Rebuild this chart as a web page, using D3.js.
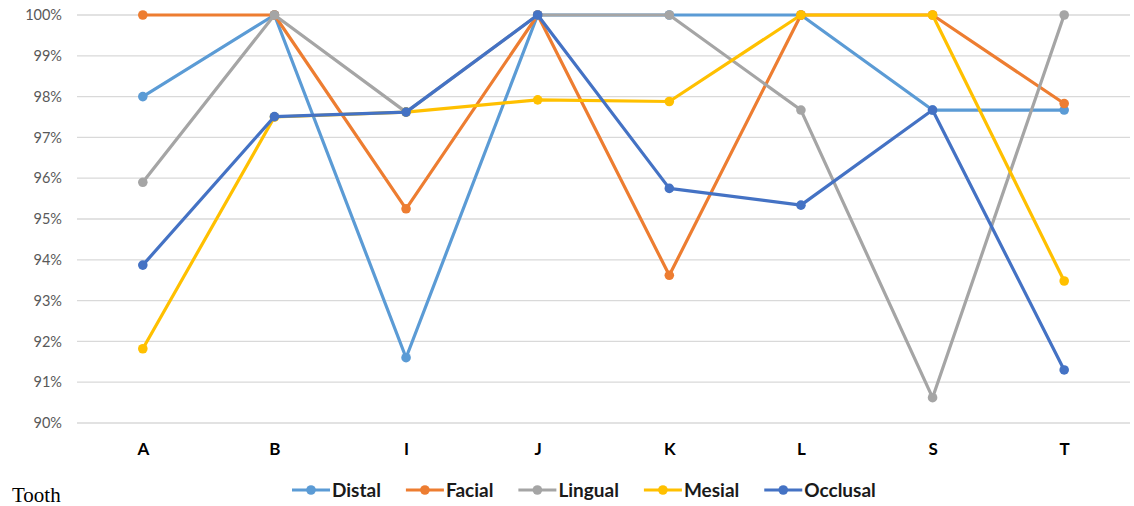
<!DOCTYPE html>
<html>
<head>
<meta charset="utf-8">
<script src="https://cdn.jsdelivr.net/npm/d3@7"></script>
<style>
  html, body { margin: 0; padding: 0; background: #fff; }
  svg { display: block; }
</style>
</head>
<body>
<svg id="chart" width="1134" height="506"></svg>
<script>
// Teeth along the x axis
const categories = ["A", "B", "I", "J", "K", "L", "S", "T"];

// Share per surface (%), one array per series
const distal   = [98.00, 100, 91.60, 100, 100, 100, 97.67, 97.67];
const facial   = [100, 100, 95.25, 100, 93.62, 100, 100, 97.83];
const lingual  = [95.90, 100, 97.62, 100, 100, 97.67, 90.62, 100];
const mesial   = [91.82, 97.50, 97.62, 97.92, 97.88, 100, 100, 93.48];
const occlusal = [93.87, 97.51, 97.62, 100, 95.75, 95.34, 97.67, 91.30];

const seriesNames  = ["Distal", "Facial", "Lingual", "Mesial", "Occlusal"];
const seriesValues = [distal, facial, lingual, mesial, occlusal];
const seriesColors = ["#5B9BD5", "#ED7D31", "#A5A5A5", "#FFC000", "#4472C4"];

const yTicks = [90, 91, 92, 93, 94, 95, 96, 97, 98, 99, 100];

const svg = d3.select("#chart");
const plotLeft = 77, plotRight = 1130, plotTop = 15, plotBottom = 423;

const x = d3.scalePoint().domain(categories).range([plotLeft, plotRight]).padding(0.5);
const y = d3.scaleLinear().domain([90, 100]).range([plotBottom, plotTop]);

const font = "Lato, 'Open Sans', sans-serif";

// Horizontal gridlines
svg.append("g")
  .selectAll("line")
  .data(yTicks)
  .join("line")
  .attr("x1", plotLeft).attr("x2", plotRight)
  .attr("y1", d => y(d)).attr("y2", d => y(d))
  .attr("stroke", "#D9D9D9")
  .attr("stroke-width", 1.3);

// Y axis labels
const yAxis = svg.append("g")
  .attr("transform", `translate(${plotLeft - 6},0)`)
  .call(d3.axisLeft(y).tickValues(yTicks).tickFormat(d => d + "%").tickSize(0).tickPadding(9));
yAxis.select(".domain").remove();
yAxis.selectAll("text")
  .attr("font-family", font)
  .attr("font-size", 14.5)
  .attr("fill", "#595959");

// X axis labels
const xAxis = svg.append("g")
  .attr("transform", `translate(0,${plotBottom})`)
  .call(d3.axisBottom(x).tickSize(0).tickPadding(20));
xAxis.select(".domain").remove();
xAxis.selectAll("text")
  .attr("font-family", font)
  .attr("font-size", 17)
  .attr("font-weight", "bold")
  .attr("fill", "#000");

// Series lines and markers
const line = d3.line().x((d, i) => x(categories[i])).y(d => y(d));
seriesValues.forEach((vals, s) => {
  const g = svg.append("g");
  g.append("path")
    .datum(vals)
    .attr("d", line)
    .attr("fill", "none")
    .attr("stroke", seriesColors[s])
    .attr("stroke-width", 3.2)
    .attr("stroke-linejoin", "round");
  g.selectAll("circle")
    .data(vals)
    .join("circle")
    .attr("cx", (d, i) => x(categories[i]))
    .attr("cy", d => y(d))
    .attr("r", 4.8)
    .attr("fill", seriesColors[s]);
});

// Legend
const legend = svg.append("g").attr("transform", "translate(0,490)");
let lx = 292;
seriesNames.forEach((name, s) => {
  const item = legend.append("g").attr("transform", `translate(${lx},0)`);
  item.append("line")
    .attr("x1", 0).attr("x2", 38).attr("y1", 0).attr("y2", 0)
    .attr("stroke", seriesColors[s]).attr("stroke-width", 3.2);
  item.append("circle")
    .attr("cx", 19).attr("cy", 0).attr("r", 4.8).attr("fill", seriesColors[s]);
  const t = item.append("text")
    .attr("x", 40).attr("y", 7)
    .attr("font-family", font)
    .attr("font-size", 19)
    .attr("font-weight", "bold")
    .attr("fill", "#1a1a1a")
    .text(name);
  lx += 40 + t.node().getComputedTextLength() + 25;
});

// Axis title
svg.append("text")
  .attr("x", 12).attr("y", 502)
  .attr("font-family", "'Liberation Serif', 'Times New Roman', serif")
  .attr("font-size", 21)
  .attr("fill", "#000")
  .text("Tooth");
</script>
</body>
</html>
